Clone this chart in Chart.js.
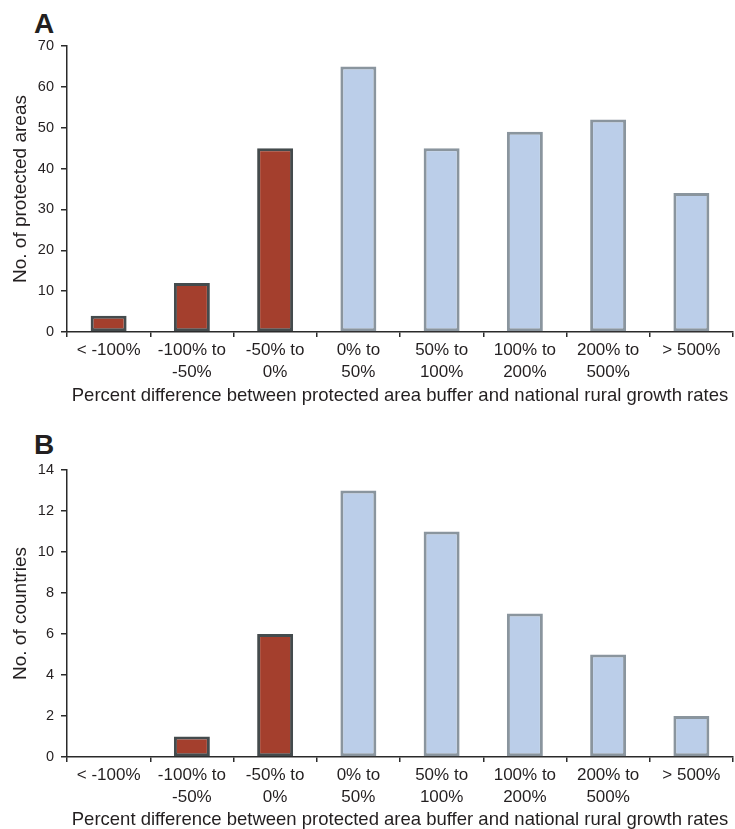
<!DOCTYPE html>
<html>
<head>
<meta charset="utf-8">
<script src="https://cdn.jsdelivr.net/npm/chart.js@4"></script>
<style>
  html, body { margin: 0; padding: 0; background: #fff; }
  body { width: 735px; height: 829px; position: relative; overflow: hidden; font-family: "Liberation Sans", Arial, sans-serif; }
  .panel { position: absolute; left: 0; width: 735px; }
  .letter { position: absolute; font-weight: bold; font-size: 28px; color: #231f20; line-height: 1; }
</style>
</head>
<body>
<div class="letter" style="left:34px; top:10px;">A</div>
<div class="letter" style="left:34px; top:431px;">B</div>
<div class="panel" style="top:0; height:414px;"><canvas id="chartA"></canvas></div>
<div class="panel" style="top:414px; height:415px;"><canvas id="chartB"></canvas></div>
<script>
// ---- data ----
const categories = [
  ["< -100%"], ["-100% to", "-50%"], ["-50% to", "0%"], ["0% to", "50%"],
  ["50% to", "100%"], ["100% to", "200%"], ["200% to", "500%"], ["> 500%"]
];
const protectedAreas = [4, 12, 45, 65, 45, 49, 52, 34];
const countries = [0, 1, 6, 13, 11, 7, 5, 2];
const yTicksA = [0, 10, 20, 30, 40, 50, 60, 70];
const yTicksB = [0, 2, 4, 6, 8, 10, 12, 14];
const negativeGroup = [true, true, true, false, false, false, false, false];
const xTitle = "Percent difference between protected area buffer and national rural growth rates";

// ---- styles ----
const RED_FILL = '#a43f2d', RED_BORDER = '#444b4d';
const BLUE_FILL = '#bbcee9', BLUE_BORDER = '#8a959e';
const TEXT = '#231f20';
const FONT = '"Liberation Sans", Arial, sans-serif';

function makeChart(id, values, yTicks, yTitle, padTop, padBottom, xHeight) {
  const maxV = yTicks[yTicks.length - 1];
  const step = yTicks[1] - yTicks[0];
  return new Chart(document.getElementById(id), {
    type: 'bar',
    data: {
      labels: categories,
      datasets: [{
        data: values,
        backgroundColor: negativeGroup.map(n => n ? RED_FILL : BLUE_FILL),
        borderColor: negativeGroup.map(n => n ? RED_BORDER : BLUE_BORDER),
        borderWidth: 3,
        borderSkipped: false,
        barPercentage: 0.432,
        categoryPercentage: 1.0
      }]
    },
    options: {
      responsive: true,
      maintainAspectRatio: false,
      animation: false,
      events: [],
      layout: { padding: { top: padTop, bottom: padBottom, left: 0, right: 2 } },
      plugins: { legend: { display: false }, tooltip: { enabled: false }, title: { display: false } },
      scales: {
        x: {
          grid: { display: true, drawOnChartArea: false, drawTicks: true, tickLength: 5, color: '#2a2a2a', lineWidth: 1.5, offset: true },
          border: { display: true, color: '#2a2a2a', width: 1.5 },
          ticks: { color: TEXT, font: { family: FONT, size: 17, lineHeight: 1.3 }, padding: 2, maxRotation: 0, autoSkip: false },
          title: { display: true, text: xTitle, color: TEXT, font: { family: FONT, size: 18.5, lineHeight: 1 }, padding: 0 },
          afterFit: s => { s.height = xHeight; }
        },
        y: {
          min: 0, max: maxV,
          grid: { display: true, drawOnChartArea: false, drawTicks: true, tickLength: 6, color: '#2a2a2a', lineWidth: 1.5 },
          border: { display: true, color: '#2a2a2a', width: 1.5 },
          ticks: { stepSize: step, color: TEXT, font: { family: FONT, size: 14.5 }, padding: 7 },
          title: { display: true, text: yTitle, color: TEXT, font: { family: FONT, size: 19, lineHeight: 1.2 }, padding: { top: 9, bottom: 0 } },
          afterFit: s => { s.width = 67; }
        }
      }
    }
  });
}

makeChart('chartA', protectedAreas, yTicksA, 'No. of protected areas', 46, 9, 73);
makeChart('chartB', countries, yTicksB, 'No. of countries', 56, 0, 72);
</script>
</body>
</html>
